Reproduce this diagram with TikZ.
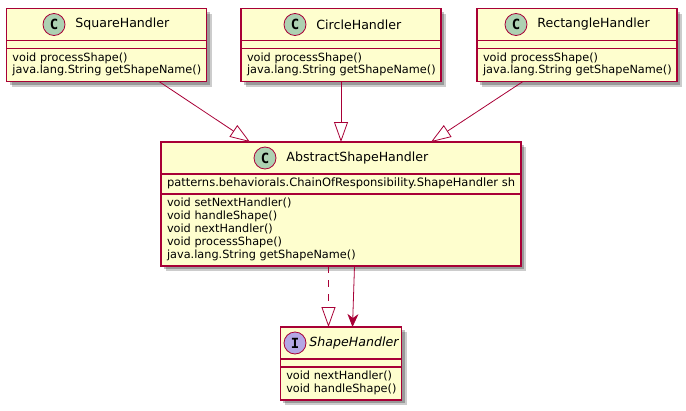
\documentclass[tikz,border=0pt]{standalone}
\usepackage{xcolor}
\usepackage{fontspec}
\setmainfont{DejaVu Sans}
\setmonofont{DejaVu Sans Mono}
\definecolor{cLine}{HTML}{A80036}
\definecolor{cFill}{HTML}{FEFECE}
\definecolor{cSpotC}{HTML}{ADD1B2}
\definecolor{cSpotI}{HTML}{B4A7E5}
\usetikzlibrary{positioning,arrows.meta,shadows}
\tikzset{
  node-class/.style={draw=cLine,line width=1.2pt,fill=cFill,inner sep=0pt,outer sep=0pt,
    drop shadow={shadow xshift=3pt,shadow yshift=-3pt,fill=black,opacity=.25},
    drop shadow={shadow xshift=5pt,shadow yshift=-5pt,fill=black,opacity=.2}},
  node-spot/.style={draw=cLine,line width=.8pt,circle,minimum size=22pt,inner sep=0pt,
    font=\fontsize{14}{14}\ttfamily\bfseries},
  node-title/.style={inner sep=0pt,outer sep=0pt,font=\fontsize{12.6}{15}\selectfont},
  node-member/.style={inner sep=0pt,outer sep=0pt,align=left,anchor=north west,
    font=\fontsize{11.3}{12.9}\selectfont},
  sep-line/.style={draw=cLine,line width=1.2pt},
  arrow-extends/.style={-{Triangle[open,length=20pt,width=14pt,fill=white]},line width=.8pt,draw=cLine},
  arrow-implements/.style={arrow-extends,dash pattern=on 7pt off 7pt},
  arrow-use/.style={-{Stealth[length=13pt,width=11pt,inset=4pt]},line width=.8pt,draw=cLine},
}
\begin{document}
\begin{tikzpicture}[x=1pt,y=-1pt]
  \useasboundingbox (0,0) rectangle (686,410);
  \node[node-class,minimum width=200pt,minimum height=73pt] (sq) at (106.5,45) {};
  \node[node-class,minimum width=200pt,minimum height=73pt,right=34.5pt of sq] (circ) {};
  \node[node-class,minimum width=200pt,minimum height=73pt,right=36pt of circ] (rect) {};
  \node[node-class,minimum width=360pt,minimum height=124pt] (abs) at (341,204) {};
  \node[node-class,minimum width=121.5pt,minimum height=73pt,below=61pt of abs] (iface) {};
  % top row
  \foreach \n/\t/\s in {sq/SquareHandler/-52.5pt,circ/CircleHandler/-46pt,rect/RectangleHandler/-61pt} {
    \draw[sep-line] ([yshift=-32pt]\n.north west) -- ([yshift=-32pt]\n.north east);
    \draw[sep-line] ([yshift=-40pt]\n.north west) -- ([yshift=-40pt]\n.north east);
    \node[node-spot,fill=cSpotC] (\n-spot) at ([xshift=\s,yshift=-16pt]\n.north) {C};
    \node[node-title,right=10pt of \n-spot] (\n-title) {\t};
    \node[node-member] (\n-ops) at ([xshift=6pt,yshift=-44pt]\n.north west)
      {void processShape()\\java.lang.String getShapeName()};
  }
  % abstract class
  \draw[sep-line] ([yshift=-32pt]abs.north west) -- ([yshift=-32pt]abs.north east);
  \draw[sep-line] ([yshift=-52pt]abs.north west) -- ([yshift=-52pt]abs.north east);
  \node[node-spot,fill=cSpotC] (abs-spot) at ([xshift=-76pt,yshift=-16pt]abs.north) {C};
  \node[node-title,right=10pt of abs-spot] (abs-title) {AbstractShapeHandler};
  \node[node-member,font=\fontsize{11.5}{12.9}\selectfont] (abs-attr) at ([xshift=6pt,yshift=-36pt]abs.north west)
    {patterns.behaviorals.ChainOfResponsibility.ShapeHandler sh};
  \node[node-member] (abs-ops) at ([xshift=6pt,yshift=-56pt]abs.north west)
    {void setNextHandler()\\void handleShape()\\void nextHandler()\\void processShape()\\java.lang.String getShapeName()};
  % interface
  \draw[sep-line] ([yshift=-32pt]iface.north west) -- ([yshift=-32pt]iface.north east);
  \draw[sep-line] ([yshift=-40pt]iface.north west) -- ([yshift=-40pt]iface.north east);
  \node[node-spot,fill=cSpotI] (iface-spot) at ([xshift=-46pt,yshift=-16pt]iface.north) {I};
  \node[node-title,right=3pt of iface-spot] (iface-title) {\itshape ShapeHandler};
  \node[node-member] (iface-ops) at ([xshift=6pt,yshift=-44pt]iface.north west)
    {void nextHandler()\\void handleShape()};
  % connectors
  \draw[arrow-extends] ([xshift=52.5pt]sq.south) -- ([xshift=-91pt]abs.north);
  \draw[arrow-extends] (circ.south) -- (abs.north);
  \draw[arrow-extends] ([xshift=-54pt]rect.south) -- ([xshift=90pt]abs.north);
  \draw[arrow-implements] ([xshift=-12.5pt]abs.south) -- ([xshift=-12.5pt]iface.north);
  \draw[arrow-use] ([xshift=13.5pt]abs.south) -- ([xshift=11.5pt]iface.north);
\end{tikzpicture}
\end{document}
